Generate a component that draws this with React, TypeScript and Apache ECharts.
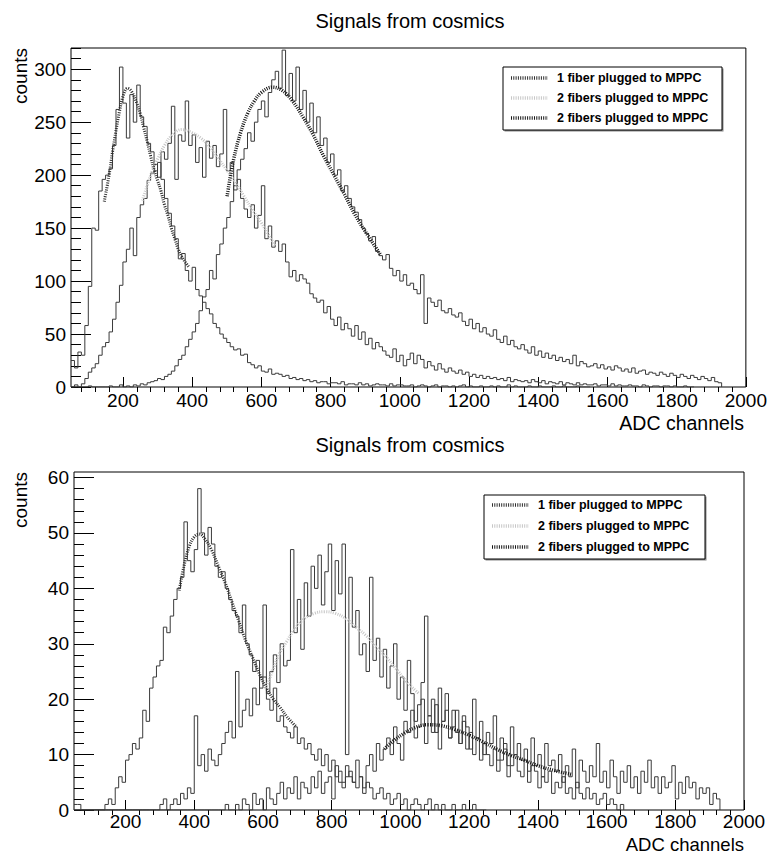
import React, { useEffect, useRef } from "react";
import * as echarts from "echarts";

// Histogram bins: low edge = BIN_START + i * BIN_WIDTH
const BIN_START = 50;
const BIN_WIDTH = 10;

const X_MIN = 50;
const X_MAX = 2000;
const X_MAJOR = [200, 400, 600, 800, 1000, 1200, 1400, 1600, 1800, 2000];
const X_MINOR_STEP = 40;

const TOP_Y_MAX = 320;
const TOP_Y_MAJOR = [0, 50, 100, 150, 200, 250, 300];
const TOP_Y_MINOR_STEP = 10;
const BOT_Y_MAX = 61;
const BOT_Y_MAJOR = [0, 10, 20, 30, 40, 50, 60];
const BOT_Y_MINOR_STEP = 2;

const TITLE = "Signals from cosmics";
const X_NAME = "ADC channels";
const Y_NAME = "counts";
const LEGEND_LABELS = ["1 fiber plugged to MPPC", "2 fibers plugged to MPPC", "2 fibers plugged to MPPC"];

// ---------- top panel ----------
const topOneFiber = [
  25, 18, 33, 30, 58, 95, 150, 148, 185, 196,
  200, 206, 228, 262, 302, 268, 235, 276, 250, 285,
  255, 246, 230, 222, 204, 212, 196, 178, 164, 152,
  140, 121, 126, 110, 100, 113, 92, 86, 80, 74,
  69, 60, 56, 50, 46, 42, 38, 35, 36, 30,
  31, 23, 21, 18, 20, 15, 14, 17, 12, 13,
  12, 10, 11, 8, 9, 7, 8, 6, 7, 5,
  6, 4, 5, 5, 3, 4, 4, 3, 5, 2,
  3, 3, 2, 4, 2, 3, 1, 2, 3, 2,
  2, 1, 3, 1, 2, 2, 1, 1, 2, 0,
  1, 2, 1, 0, 1, 2, 0, 1, 1, 0,
  1, 0, 1, 2, 0, 1, 0, 0, 1, 0,
  0, 1, 0, 1, 0, 0, 2, 0, 1, 0,
  0, 0, 1, 0, 0, 1, 0, 0, 0, 1,
  0, 0, 1, 0, 0, 0, 1, 0, 0, 0,
];

const topTwoFibersA = [
  0, 2, 0, 3, 8, 14, 18, 22, 30, 38,
  42, 52, 64, 80, 96, 118, 130, 150, 124, 160,
  172, 178, 195, 202, 210, 198, 222, 215, 230, 265,
  196, 238, 232, 270, 228, 238, 212, 226, 198, 232,
  216, 228, 208, 220, 262, 204, 212, 186, 196, 178,
  168, 160, 172, 150, 162, 190, 140, 152, 132, 138,
  128, 135, 118, 104, 110, 100, 106, 102, 98, 88,
  84, 80, 82, 70, 76, 64, 58, 66, 54, 60,
  55, 48, 58, 45, 52, 40, 46, 36, 42, 38,
  34, 30, 28, 36, 24, 30, 20, 26, 32, 22,
  30, 26, 18, 24, 20, 16, 22, 17, 14, 18,
  15, 13, 16, 12, 14, 10, 12, 9, 11, 8,
  10, 8, 9, 7, 8, 6, 9, 5, 7, 6,
  5, 6, 4, 7, 5, 4, 6, 3, 5, 4,
  3, 5, 2, 4, 3, 2, 4, 2, 3, 2,
  2, 3, 1, 2, 2, 1, 3, 1, 2, 1,
  1, 2, 1, 1, 0, 2, 1, 0, 1, 1,
  0, 1, 1, 0, 1, 0, 0, 1, 0, 0,
];

const topTwoFibersB = [
  0, 0, 0, 0, 0, 1, 0, 0, 0, 0,
  0, 1, 0, 0, 2, 0, 1, 0, 2, 1,
  3, 2, 4, 5, 6, 8, 7, 10, 12, 15,
  20, 26, 30, 38, 45, 52, 60, 72, 85, 92,
  110, 102, 125, 135, 150, 160, 175, 190, 205, 215,
  225, 240, 232, 250, 262, 270, 255, 278, 290, 298,
  282, 318, 275, 296, 270, 302, 262, 280, 250, 268,
  240, 255, 228, 235, 212, 220, 200, 205, 185, 190,
  178, 170, 165, 158, 150, 145, 138, 142, 128, 124,
  120, 125, 112, 105, 110, 100, 106, 96, 98, 92,
  88, 106, 60, 84, 80, 76, 82, 72, 70, 74,
  68, 66, 70, 62, 58, 64, 55, 60, 52, 56,
  50, 48, 54, 45, 42, 48, 40, 44, 38, 36,
  40, 35, 32, 38, 30, 34, 28, 32, 27, 30,
  25, 28, 24, 26, 22, 30, 20, 24, 22, 19,
  20, 22, 18, 21, 17, 19, 16, 20, 18, 15,
  17, 14, 18, 13, 15, 16, 12, 14, 13, 11,
  14, 12, 10, 13, 11, 9, 12, 10, 8, 11,
  9, 7, 10, 8, 6, 9, 5, 4,
];

const topFitOne = [
  [146, 175], [160, 200], [170, 222], [180, 242], [190, 260], [200, 274], [213, 282],
  [225, 279], [240, 268], [250, 258], [260, 245], [270, 232], [280, 218], [290, 205],
  [300, 195], [310, 185], [320, 172], [330, 162], [340, 150], [350, 140], [360, 130],
  [370, 123], [380, 118], [391, 113],
];
const topFitTwoA = [
  [256, 176], [270, 190], [285, 204], [300, 215], [320, 228], [340, 237], [370, 243],
  [400, 240], [425, 235], [450, 227], [475, 216], [500, 205], [525, 193], [550, 180],
  [575, 167], [600, 155], [620, 144], [641, 133],
];
const topFitTwoB = [
  [501, 180], [520, 215], [540, 240], [560, 258], [580, 270], [600, 278], [632, 283],
  [660, 280], [690, 270], [720, 255], [750, 238], [780, 218], [810, 200], [840, 182],
  [870, 163], [900, 147], [944, 125],
];

// ---------- bottom panel ----------
const botOneFiber = [
  1, 1, 0, 0, 0, 0, 0, 0, 0, 1,
  2, 1, 4, 6, 5, 9, 10, 12, 11, 13,
  18, 16, 22, 24, 26, 27, 33, 32, 35, 38,
  40, 42, 52, 45, 43, 47, 58, 50, 46, 51,
  48, 44, 42, 43, 40, 38, 36, 35, 32, 37,
  30, 28, 25, 27, 22, 24, 20, 18, 22, 16,
  17, 15, 14, 13, 15, 12, 13, 11, 12, 10,
  9, 11, 8, 10, 7, 9, 6, 7, 5, 8,
  6, 5, 4, 6, 3, 5, 4, 2, 3, 4,
  2, 3, 1, 2, 3, 1, 2, 0, 1, 2,
  1, 0, 1, 2, 0, 1, 0, 1, 0, 0,
  1, 0, 0, 1, 0, 0, 1, 0, 0, 0,
];

const botTwoFibersA = [
  0, 0, 0, 0, 0, 0, 0, 0, 0, 0,
  0, 0, 0, 0, 0, 0, 0, 0, 0, 0,
  0, 0, 0, 0, 0, 1, 2, 0, 1, 2,
  1, 3, 2, 4, 3, 17, 8, 10, 7, 11,
  9, 8, 10, 12, 14, 16, 13, 25, 15, 18,
  20, 17, 22, 19, 24, 37, 21, 25, 28, 23,
  30, 26, 27, 47, 32, 38, 29, 41, 35, 44,
  40, 46, 37, 43, 48, 36, 45, 39, 48, 10,
  42, 33, 36, 28, 30, 25, 42, 27, 31, 24,
  29, 22, 26, 30, 20, 24, 18, 27, 21, 16,
  19, 23, 35, 17, 20, 14, 22, 16, 18, 13,
  15, 18, 12, 16, 11, 14, 10, 13, 9, 12,
  10, 8, 11, 7, 9, 12, 6, 8, 10, 7,
  6, 9, 5, 8, 7, 4, 6, 5, 7, 3,
  5, 4, 6, 3, 4, 2, 5, 3, 2, 4,
  2, 3, 1, 2, 3, 1, 2, 1, 0, 1,
];

const botTwoFibersB = [
  0, 0, 0, 0, 0, 0, 0, 0, 0, 0,
  0, 0, 0, 0, 0, 0, 0, 0, 0, 0,
  0, 0, 0, 0, 0, 0, 0, 0, 0, 0,
  0, 0, 0, 0, 0, 0, 0, 0, 0, 0,
  0, 0, 0, 0, 1, 0, 0, 1, 0, 2,
  1, 0, 3, 1, 2, 0, 4, 2, 1, 3,
  5, 2, 4, 3, 6, 2, 5, 4, 3, 6,
  4, 7, 3, 5, 6, 2, 8, 5, 4, 6,
  7, 5, 9, 6, 4, 8, 10, 7, 12, 9,
  11, 13, 10, 15, 12, 9, 16, 14, 18, 13,
  15, 20, 12, 17, 14, 19, 11, 16, 21, 13,
  18, 14, 12, 17, 15, 11, 20, 13, 16, 10,
  14, 12, 17, 9, 13, 11, 8, 15, 10, 12,
  9, 11, 7, 13, 8, 10, 6, 12, 8, 9,
  7, 10, 5, 8, 6, 11, 4, 9, 7, 5,
  8, 6, 12, 5, 7, 4, 9, 6, 3, 7,
  5, 8, 4, 6, 3, 7, 5, 9, 4, 6,
  3, 6, 4, 5, 8, 2, 5, 3, 6, 4,
  5, 2, 4, 3, 4, 1, 3, 2,
];

const botFitOne = [
  [356, 39.6], [370, 44], [385, 47.5], [400, 49.3], [415, 49.8], [430, 49], [450, 47],
  [470, 44], [490, 41], [510, 37.5], [530, 34], [550, 30.5], [570, 27.5], [590, 24.5],
  [610, 22], [630, 20], [650, 18.5], [670, 16.8], [697, 15],
];
const botFitTwoA = [
  [609, 22], [630, 25.5], [650, 28.5], [670, 30.5], [690, 32.5], [720, 34.5], [750, 35.5],
  [780, 35.8], [810, 35.5], [840, 34.6], [870, 33], [900, 31.5], [930, 29.4], [960, 27.5],
  [990, 25.3], [1020, 23], [1054, 21],
];
const botFitTwoB = [
  [953, 11], [980, 12.5], [1010, 13.8], [1040, 14.8], [1080, 15.4], [1120, 15.2],
  [1160, 14.5], [1200, 13.5], [1240, 12.3], [1280, 11], [1320, 9.9], [1360, 9],
  [1400, 8], [1450, 7.1], [1500, 6.4],
];

const FONT = "'Liberation Sans', Arial, Helvetica, sans-serif";
const HIST_COLOR = "#3a3a3a";
const FIT_COLORS = ["#2e2e2e", "#c6c6c6", "#151515"];

function histData(values: number[]) {
  const pts: number[][] = values.map((v, i) => [BIN_START + i * BIN_WIDTH, v]);
  pts.push([BIN_START + values.length * BIN_WIDTH, 0]);
  return pts;
}

function minorValues(min: number, max: number, step: number, majorStep: number) {
  const out: number[] = [];
  const start = Math.ceil(min / step) * step;
  for (let v = start; v <= max + 1e-9; v += step) {
    const r = v / majorStep;
    if (Math.abs(r - Math.round(r)) > 1e-9) out.push(Number(v.toFixed(6)));
  }
  return out;
}

export default function App() {
  const ref = useRef<HTMLDivElement>(null);

  useEffect(() => {
    document.body.style.margin = "0";
    if (!ref.current) return;
    const chart = echarts.init(ref.current, null, { renderer: "svg" });

    const grids = [
      { left: 71, right: 24, top: 48, height: 339 },
      { left: 74, right: 26, top: 472, height: 338 },
    ];
    const yMax = [TOP_Y_MAX, BOT_Y_MAX];
    const yMajor = [TOP_Y_MAJOR, BOT_Y_MAJOR];
    const yMinor = [
      minorValues(0, TOP_Y_MAX, TOP_Y_MINOR_STEP, 50),
      minorValues(0, BOT_Y_MAX, BOT_Y_MINOR_STEP, 10),
    ];
    const xMinor = minorValues(X_MIN, X_MAX, X_MINOR_STEP, 200);
    const xLabelMargin = [4, 2];

    const labelStyle = { fontFamily: FONT, fontSize: 19, color: "#000", formatter: (v: number) => String(v) };

    const xAxis: any[] = [];
    const yAxis: any[] = [];
    [0, 1].forEach((g) => {
      xAxis.push({
        type: "value", gridIndex: g, min: X_MIN, max: X_MAX,
        axisLine: { show: false },
        splitLine: { show: false },
        axisTick: { show: true, inside: true, length: 10, customValues: X_MAJOR, lineStyle: { color: "#000" } },
        axisLabel: { ...labelStyle, customValues: X_MAJOR, margin: xLabelMargin[g] },
      });
      xAxis.push({
        type: "value", gridIndex: g, min: X_MIN, max: X_MAX,
        axisLine: { show: false },
        splitLine: { show: false },
        axisTick: { show: true, inside: true, length: 5, customValues: xMinor, lineStyle: { color: "#000" } },
        axisLabel: { show: false },
      });
      yAxis.push({
        type: "value", gridIndex: g, min: 0, max: yMax[g], position: "left",
        axisLine: { show: false },
        splitLine: { show: false },
        axisTick: { show: true, inside: true, length: 20, customValues: yMajor[g], lineStyle: { color: "#000" } },
        axisLabel: { ...labelStyle, customValues: yMajor[g], margin: 5 },
      });
      yAxis.push({
        type: "value", gridIndex: g, min: 0, max: yMax[g], position: "left",
        axisLine: { show: false },
        splitLine: { show: false },
        axisTick: { show: true, inside: true, length: 10, customValues: yMinor[g], lineStyle: { color: "#000" } },
        axisLabel: { show: false },
      });
    });

    const hist = (values: number[], g: number) => ({
      type: "line", step: "end", symbol: "none", silent: true, animation: false,
      xAxisIndex: g * 2, yAxisIndex: g * 2, z: 2,
      lineStyle: { color: HIST_COLOR, width: 1 },
      data: histData(values),
    });
    const fit = (pts: number[][], g: number, k: number) => ({
      type: "line", smooth: 0.4, symbol: "none", silent: true, animation: false,
      xAxisIndex: g * 2, yAxisIndex: g * 2, z: 3,
      lineStyle: { color: FIT_COLORS[k], width: k === 2 ? 3.5 : 3, type: [1, 1.3] },
      data: pts,
    });

    const legendBoxes = [
      { x: 503, y: 67, w: 219, h: 63, rows: [78, 98, 118], sx1: 511, sx2: 548, tx: 557 },
      { x: 484, y: 495, w: 221, h: 64, rows: [505, 526, 547], sx1: 492, sx2: 529, tx: 538 },
    ];

    const graphic: any[] = [];
    [21, 445].forEach((y) => {
      graphic.push({
        type: "text", x: 410, y, silent: true,
        style: { text: TITLE, fontFamily: FONT, fontSize: 20, fill: "#000", align: "center", verticalAlign: "middle" },
      });
    });
    [[744, 423, 19.5], [744, 844, 18.5]].forEach(([x, y, fs]) => {
      graphic.push({
        type: "text", x, y, silent: true,
        style: { text: X_NAME, fontFamily: FONT, fontSize: fs, fill: "#000", align: "right", verticalAlign: "middle" },
      });
    });
    [[20, 48], [20, 472]].forEach(([x, y]) => {
      graphic.push({
        type: "text", x, y, rotation: Math.PI / 2, silent: true,
        style: { text: Y_NAME, fontFamily: FONT, fontSize: 19, fill: "#000", align: "right", verticalAlign: "middle" },
      });
    });
    legendBoxes.forEach((b) => {
      graphic.push({
        type: "rect", shape: { x: b.x + 1.5, y: b.y + 1.5, width: b.w, height: b.h }, silent: true,
        style: { fill: "#888", stroke: "none" }, z: 10,
      });
      graphic.push({
        type: "rect", shape: { x: b.x, y: b.y, width: b.w, height: b.h }, silent: true,
        style: { fill: "#fff", stroke: "#000", lineWidth: 1 }, z: 11,
      });
      b.rows.forEach((ry, k) => {
        graphic.push({
          type: "line", shape: { x1: b.sx1, y1: ry, x2: b.sx2, y2: ry }, silent: true, z: 12,
          style: { stroke: FIT_COLORS[k], lineWidth: 3.5, lineDash: [1, 1.3] },
        });
        graphic.push({
          type: "text", x: b.tx, y: ry, silent: true, z: 12,
          style: { text: LEGEND_LABELS[k], fontFamily: FONT, fontSize: 12.5, fontWeight: "bold", fill: "#000", align: "left", verticalAlign: "middle" },
        });
      });
    });

    chart.setOption({
      animation: false,
      backgroundColor: "#fff",
      grid: grids.map((g) => ({ ...g, show: true, borderColor: "#000", borderWidth: 1, backgroundColor: "transparent" })),
      xAxis,
      yAxis,
      series: [
        hist(topOneFiber, 0), hist(topTwoFibersA, 0), hist(topTwoFibersB, 0),
        fit(topFitOne, 0, 0), fit(topFitTwoA, 0, 1), fit(topFitTwoB, 0, 2),
        hist(botOneFiber, 1), hist(botTwoFibersA, 1), hist(botTwoFibersB, 1),
        fit(botFitOne, 1, 0), fit(botFitTwoA, 1, 1), fit(botFitTwoB, 1, 2),
      ],
      graphic,
    });

    return () => chart.dispose();
  }, []);

  return <div ref={ref} style={{ width: 770, height: 854 }} />;
}
